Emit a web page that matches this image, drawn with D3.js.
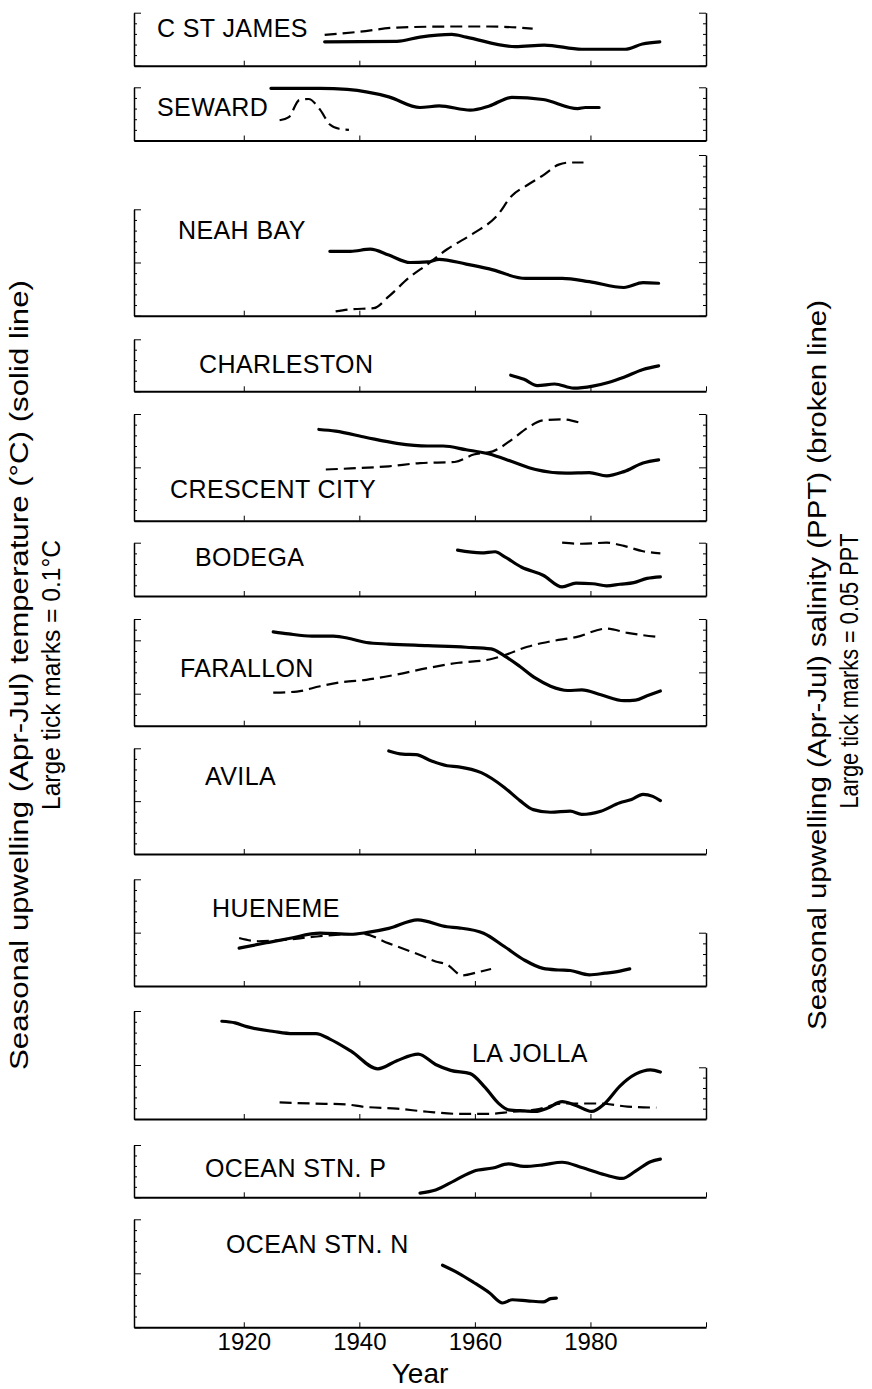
<!DOCTYPE html>
<html>
<head>
<meta charset="utf-8">
<script src="https://cdn.jsdelivr.net/npm/d3@7"></script>
<style>
body{margin:0;background:#fff;}
text{font-family:"Liberation Sans",Arial,Helvetica,sans-serif;fill:#000;}
</style>
</head>
<body>
<script>
// station names, top to bottom
const stations=["C ST JAMES","SEWARD","NEAH BAY","CHARLESTON","CRESCENT CITY","BODEGA",
  "FARALLON","AVILA","HUENEME","LA JOLLA","OCEAN STN. P","OCEAN STN. N"];
const yearTicks=[1920,1940,1960,1980];

// [year, temperature anomaly degC] (solid) and [year, salinity anomaly PPT] (broken)
const cStJamesTemp=[[1934,0.045],[1946.5,0.046],[1950.5,0.054],[1956,0.059],[1958.5,0.054],[1967,0.036],[1972,0.039],[1978.5,0.031],[1986,0.031],[1989,0.041],[1992,0.045]];
const cStJamesSal=[[1934,0.029],[1940,0.032],[1946.5,0.036],[1957,0.037],[1962.4,0.037],[1970,0.035]];
const sewardTemp=[[1924.7,0.098],[1933.2,0.098],[1937.9,0.096],[1945.1,0.082],[1950.5,0.062],[1953.8,0.065],[1959.2,0.057],[1962.5,0.065],[1966.4,0.081],[1971.8,0.077],[1977.8,0.060],[1979.1,0.062],[1981.5,0.062]];
const sewardSal=[[1926.2,0.019],[1927.8,0.022],[1929.6,0.038],[1931.2,0.039],[1933.2,0.029],[1934.9,0.015],[1936.5,0.011],[1938.2,0.010]];
const neahBayTemp=[[1934.9,0.121],[1938.5,0.121],[1941.9,0.125],[1945.1,0.114],[1948.8,0.100],[1951.8,0.101],[1953.8,0.106],[1958.5,0.097],[1962.5,0.088],[1968.8,0.070],[1975.1,0.070],[1979.8,0.064],[1985.8,0.053],[1989.1,0.062],[1991.8,0.061]];
const neahBaySal=[[1935.9,0.004],[1938.5,0.006],[1942.5,0.007],[1945.1,0.018],[1948.5,0.035],[1951.8,0.048],[1955.2,0.062],[1959.8,0.077],[1963.8,0.093],[1966.4,0.112],[1969.1,0.122],[1971.8,0.131],[1974.5,0.141],[1976.5,0.143],[1978.8,0.143]];
const charlestonTemp=[[1966.2,0.031],[1968.5,0.023],[1970.8,0.011],[1973.8,0.014],[1977.1,0.006],[1980.4,0.010],[1983.1,0.017],[1985.8,0.027],[1989.1,0.042],[1991.8,0.049]];
const crescentTemp=[[1933,0.171],[1935.9,0.168],[1941.2,0.156],[1946.5,0.145],[1951.8,0.140],[1954.5,0.140],[1958.5,0.133],[1962.5,0.125],[1966.4,0.111],[1970.5,0.096],[1975.8,0.089],[1979.8,0.090],[1982.8,0.084],[1985.8,0.092],[1989.1,0.108],[1991.8,0.114]];
const crescentSal=[[1934.2,0.048],[1938.5,0.049],[1945.1,0.051],[1950.5,0.054],[1956.5,0.055],[1959.8,0.062],[1963.1,0.065],[1966.4,0.076],[1969.1,0.087],[1971.8,0.094],[1975.1,0.095],[1978.1,0.092]];
const bodegaTemp=[[1957,0.086],[1961.1,0.081],[1963.5,0.083],[1965.1,0.074],[1968.1,0.054],[1971.8,0.039],[1975.1,0.017],[1977.5,0.024],[1980.4,0.023],[1982.8,0.019],[1985.1,0.022],[1987.5,0.025],[1989.8,0.033],[1992.1,0.036]];
const bodegaSal=[[1975.1,0.050],[1978.5,0.049],[1982.8,0.050],[1985.8,0.047],[1989.1,0.042],[1992.1,0.040]];
const farallonTemp=[[1925.1,0.116],[1927.8,0.112],[1931.8,0.108],[1935.5,0.108],[1938.5,0.103],[1941.2,0.096],[1945.1,0.093],[1951.8,0.090],[1958.5,0.087],[1962.8,0.084],[1965.1,0.071],[1967.8,0.051],[1970.5,0.029],[1973.1,0.014],[1976.1,0.006],[1978.5,0.007],[1981.8,-0.002],[1985.8,-0.013],[1987.8,-0.012],[1989.8,-0.004],[1992.1,0.005]];
const farallonSal=[[1925.1,0.031],[1929.2,0.032],[1933.2,0.037],[1937.2,0.041],[1941.2,0.043],[1946.5,0.048],[1951.8,0.054],[1957.2,0.059],[1962.5,0.062],[1965.1,0.066],[1969.1,0.074],[1973.1,0.079],[1977.5,0.083],[1982.8,0.091],[1986.4,0.087],[1992.1,0.083]];
const avilaTemp=[[1945.1,0.195],[1947.5,0.189],[1949.8,0.188],[1952.5,0.176],[1955.2,0.167],[1957.2,0.165],[1961.1,0.154],[1965.1,0.126],[1967.8,0.101],[1970.1,0.084],[1973.1,0.079],[1976.5,0.081],[1978.5,0.075],[1981.8,0.081],[1985.1,0.097],[1987.1,0.103],[1989.1,0.113],[1990.8,0.109],[1992.1,0.101]];
const huenemeTemp=[[1919.2,0.071],[1923.9,0.081],[1927.8,0.089],[1933.2,0.099],[1938.5,0.097],[1941.2,0.100],[1945.1,0.108],[1950.1,0.124],[1955.2,0.111],[1957.2,0.109],[1961.5,0.099],[1965.1,0.074],[1968.5,0.049],[1971.8,0.033],[1974.5,0.030],[1976.5,0.029],[1979.8,0.021],[1982.5,0.024],[1985.1,0.028],[1986.8,0.032]];
const huenemeSal=[[1919.2,0.045],[1922.5,0.042],[1926.5,0.043],[1931.8,0.046],[1935.9,0.048],[1940.5,0.049],[1945.1,0.040],[1950.5,0.029],[1953.2,0.023],[1955.2,0.020],[1957.8,0.010],[1960.5,0.013],[1962.8,0.016]];
const laJollaTemp=[[1916.2,0.181],[1918.5,0.178],[1920.5,0.171],[1925.2,0.162],[1928.5,0.158],[1932.5,0.158],[1934.9,0.148],[1938.5,0.126],[1943.2,0.093],[1946.5,0.108],[1950.2,0.120],[1953.2,0.101],[1955.8,0.090],[1959.2,0.084],[1961.8,0.058],[1964.1,0.029],[1965.8,0.017],[1968.5,0.015],[1970.5,0.014],[1972.5,0.020],[1975.1,0.032],[1977.5,0.025],[1980.2,0.014],[1982.5,0.029],[1985.1,0.061],[1987.8,0.083],[1990.4,0.091],[1992.1,0.087]];
const laJollaSal=[[1926.2,0.016],[1931.9,0.015],[1937.9,0.014],[1940.5,0.012],[1946.5,0.010],[1951.8,0.007],[1957.2,0.005],[1962.5,0.005],[1966.4,0.007],[1970.5,0.009],[1975.1,0.015],[1981.8,0.015],[1986.4,0.012],[1991.4,0.011]];
const stnPTemp=[[1950.5,0.008],[1953.2,0.014],[1956.5,0.032],[1959.8,0.050],[1963.1,0.056],[1965.8,0.064],[1968.5,0.059],[1971.8,0.062],[1975.1,0.067],[1978.5,0.057],[1982.5,0.043],[1985.5,0.036],[1987.8,0.050],[1990.4,0.068],[1992.1,0.073]];
const stnNTemp=[[1954.4,0.115],[1957.2,0.100],[1959.8,0.083],[1962.5,0.064],[1964.8,0.045],[1966.5,0.051],[1969.1,0.049],[1971.8,0.047],[1973.1,0.053],[1974.1,0.054]];

// panel layout: left-axis pixel span, temp domain, salinity domain + top of right axis, label spot
const panels=[
  {temp:cStJamesTemp,sal:cStJamesSal,top:12.7,bot:65.7,tDom:[0,0.1],sDom:[0,0.05],sTop:12.7,lx:157,ly:37},
  {temp:sewardTemp,sal:sewardSal,top:87.3,bot:140.5,tDom:[0,0.1],sDom:[0,0.05],sTop:87.3,lx:157,ly:116},
  {temp:neahBayTemp,sal:neahBaySal,top:209.3,bot:315.7,tDom:[0,0.2],sDom:[0,0.15],sTop:155,lx:178,ly:239},
  {temp:charlestonTemp,sal:null,top:339.3,bot:391.3,tDom:[0,0.1],lx:199,ly:373},
  {temp:crescentTemp,sal:crescentSal,top:414,bot:520.7,tDom:[0,0.2],sDom:[0,0.1],sTop:414,lx:170,ly:498},
  {temp:bodegaTemp,sal:bodegaSal,top:542.7,bot:596,tDom:[0,0.1],sDom:[0,0.05],sTop:542.7,lx:195,ly:566},
  {temp:farallonTemp,sal:farallonSal,top:619,bot:725.7,tDom:[-0.06,0.14],sDom:[0,0.1],sTop:619,lx:180,ly:677},
  {temp:avilaTemp,sal:null,top:748.3,bot:854,tDom:[0,0.2],lx:205,ly:785},
  {temp:huenemeTemp,sal:huenemeSal,top:879.3,bot:986,tDom:[0,0.2],sDom:[0,0.05],sTop:932.7,lx:212,ly:917},
  {temp:laJollaTemp,sal:laJollaSal,top:1011,bot:1119,tDom:[0,0.2],sDom:[0,0.05],sTop:1067.3,lx:472,ly:1062},
  {temp:stnPTemp,sal:null,top:1145,bot:1197.3,tDom:[0,0.1],lx:205,ly:1177},
  {temp:stnNTemp,sal:null,top:1219.3,bot:1327.3,tDom:[0,0.2],lx:226,ly:1253}
];

const W=872,H=1389,left=134,right=706;
const svg=d3.select("body").append("svg")
  .attr("width",W).attr("height",H)
  .attr("viewBox",[0,0,W,H]);

const x=d3.scaleLinear().domain([1901,2000]).range([left,right]);

// ticks every 0.02 degC (large every 0.1) / every 0.01 PPT (large every 0.05)
function tickVals(dom,step,bigStep){
  const small=[],big=[];
  const n=Math.round((dom[1]-dom[0])/step);
  for(let i=0;i<=n;i++){
    const v=+(dom[0]+i*step).toFixed(4);
    if(Math.abs(v/bigStep-Math.round(v/bigStep))<1e-6) big.push(v); else small.push(v);
  }
  if(!big.includes(dom[1])) big.push(dom[1]);
  return {small,big};
}

const line=(xs,ys)=>d3.line().x(d=>xs(d[0])).y(d=>ys(d[1])).curve(d3.curveMonotoneX);

panels.forEach((p,i)=>{
  const g=svg.append("g");
  const yT=d3.scaleLinear().domain(p.tDom).range([p.bot,p.top]);

  // bottom (year) axis
  g.append("g").attr("transform",`translate(0,${p.bot})`)
    .call(d3.axisTop(x).tickValues(yearTicks.concat([2000])).tickSize(5).tickSizeOuter(0).tickFormat(""))
    .call(a=>a.select(".domain").attr("stroke-width",2));

  // left (temperature) axis
  const tv=tickVals(p.tDom,0.02,0.1);
  g.append("g").attr("transform",`translate(${left},0)`)
    .call(d3.axisRight(yT).tickValues(tv.small).tickSize(3).tickSizeOuter(0).tickFormat(""))
    .call(a=>a.select(".domain").attr("stroke-width",1.5));
  g.append("g").attr("transform",`translate(${left},0)`)
    .call(d3.axisRight(yT).tickValues(tv.big).tickSize(7).tickSizeOuter(0).tickFormat(""))
    .call(a=>a.select(".domain").remove());

  if(p.sal){
    const yS=d3.scaleLinear().domain(p.sDom).range([p.bot,p.sTop]);
    const sv=tickVals(p.sDom,0.01,0.05);
    g.append("g").attr("transform",`translate(${right},0)`)
      .call(d3.axisLeft(yS).tickValues(sv.small).tickSize(3).tickSizeOuter(0).tickFormat(""))
      .call(a=>a.select(".domain").attr("stroke-width",1.5));
    g.append("g").attr("transform",`translate(${right},0)`)
      .call(d3.axisLeft(yS).tickValues(sv.big).tickSize(7).tickSizeOuter(0).tickFormat(""))
      .call(a=>a.select(".domain").remove());
    g.append("path").datum(p.sal)
      .attr("fill","none").attr("stroke","#000").attr("stroke-width",2.2)
      .attr("stroke-dasharray","12,6")
      .attr("d",line(x,yS));
  }

  g.append("path").datum(p.temp)
    .attr("fill","none").attr("stroke","#000").attr("stroke-width",3.2)
    .attr("stroke-linejoin","round").attr("stroke-linecap","round")
    .attr("d",line(x,yT));

  g.append("text").attr("x",p.lx).attr("y",p.ly)
    .style("font-size","25px").style("letter-spacing","0.4px").text(stations[i]);
});

// year labels under the last panel
const last=panels[panels.length-1];
svg.append("g").attr("transform",`translate(0,${last.bot})`)
  .call(d3.axisBottom(x).tickValues(yearTicks).tickSize(0).tickPadding(6).tickFormat(d3.format("d")))
  .call(a=>a.select(".domain").remove())
  .call(a=>a.selectAll("text").style("font-size","24px")
    .style("font-family","'Liberation Sans',Arial,sans-serif"));

svg.append("text").attr("x",420).attr("y",1383).attr("text-anchor","middle")
  .style("font-size","28px").text("Year");

// axis titles
const titles=[
  {t:"Seasonal upwelling (Apr-Jul) temperature (\u00B0C) (solid line)",x:28,y:675,len:790},
  {t:"Large tick marks = 0.1\u00B0C",x:60,y:675,len:270},
  {t:"Seasonal upwelling (Apr-Jul) salinity (PPT) (broken line)",x:826,y:665,len:730},
  {t:"Large tick marks = 0.05 PPT",x:858,y:671,len:275}
];
svg.selectAll(".ttl").data(titles).join("text").attr("class","ttl")
  .attr("transform",d=>`translate(${d.x},${d.y}) rotate(-90)`)
  .attr("text-anchor","middle").style("font-size","25px")
  .attr("textLength",d=>d.len).attr("lengthAdjust","spacingAndGlyphs")
  .text(d=>d.t);
</script>
</body>
</html>
